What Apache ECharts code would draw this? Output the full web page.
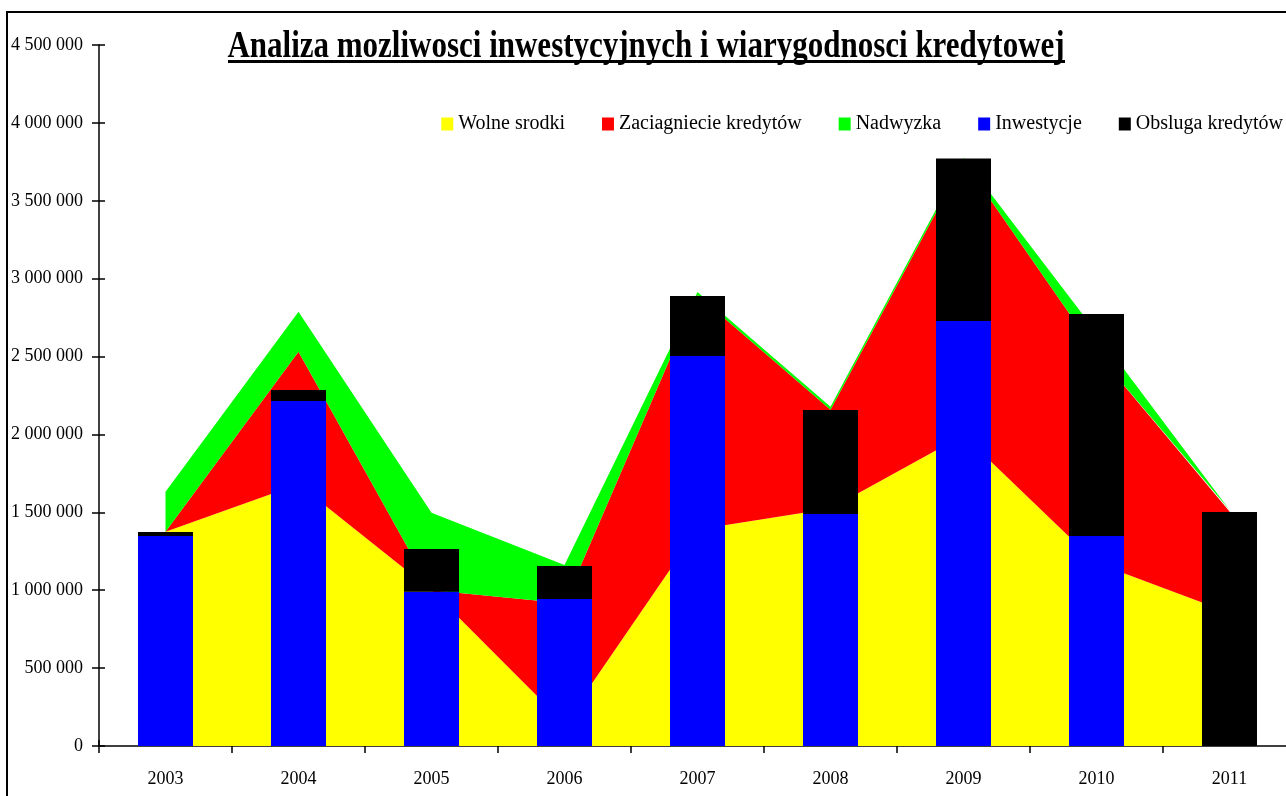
<!DOCTYPE html>
<html>
<head>
<meta charset="utf-8">
<script src="https://cdn.jsdelivr.net/npm/echarts@6/dist/echarts.min.js"></script>
<style>
  html, body { margin: 0; padding: 0; background: #fff; }
  #main { width: 1286px; height: 796px; }
</style>
</head>
<body>
<div id="main"></div>
<script>
// dane
var years = ['2003', '2004', '2005', '2006', '2007', '2008', '2009', '2010', '2011'];
var wolneSrodki = [1375000, 1680000, 1000000, 145000, 1390000, 1525000, 1995000, 1175000, 855000];
var zaciagniecie = [0, 851000, 0, 771000, 1505000, 633000, 1760000, 1350000, 650000];
var nadwyzka = [257000, 256000, 498000, 246000, 20000, 20000, 20000, 130000, 10000];
var inwestycje = [1348000, 2214000, 990000, 943000, 2503000, 1489000, 2728000, 1348000, 0];
var obsluga = [26000, 71000, 274000, 212000, 385000, 668000, 1044000, 1425000, 1502000];

var serif = '"Liberation Serif", "Times New Roman", serif';

function fmt(v) {
    return String(v).replace(/\B(?=(\d{3})+(?!\d))/g, ' ');
}

function area(name, data, color) {
    return {
        name: name, type: 'line', stack: 'obszar', data: data,
        symbol: 'none', smooth: false,
        lineStyle: { width: 0, color: color },
        itemStyle: { color: color },
        areaStyle: { color: color, opacity: 1 },
        z: 1
    };
}

function bar(name, data, color) {
    return {
        name: name, type: 'bar', stack: 'slupki', data: data,
        barWidth: 55, itemStyle: { color: color },
        z: 3
    };
}

var myChart = echarts.init(document.getElementById('main'));

var option = {
    animation: false,
    backgroundColor: '#fff',
    graphic: [
        {
            type: 'rect', z: 100, silent: true,
            shape: { x: 7, y: 12, width: 1320, height: 820 },
            style: { fill: 'none', stroke: '#000', lineWidth: 2 }
        },
        {
            type: 'text', z: 100, x: 646, y: 47, scaleY: 1.25,
            style: {
                text: 'Analiza mozliwosci inwestycyjnych i wiarygodnosci kredytowej',
                x: 0, y: 0, fill: '#000',
                font: 'bold 31px ' + serif,
                textAlign: 'center', textVerticalAlign: 'middle'
            }
        },
        {
            type: 'rect', z: 100,
            shape: { x: 228, y: 60, width: 837, height: 3 },
            style: { fill: '#000' }
        }
    ],
    legend: {
        top: 114, right: 3, padding: 0,
        icon: 'rect', itemWidth: 12, itemHeight: 13, itemGap: 37,
        textStyle: { fontFamily: serif, fontSize: 20, color: '#000' },
        data: ['Wolne srodki', 'Zaciagniecie kredytów', 'Nadwyzka', 'Inwestycje', 'Obsluga kredytów']
    },
    grid: { left: 99, top: 45, width: 1197, height: 701, containLabel: false, outerBoundsMode: 'none' },
    xAxis: [
        {
            type: 'category', data: years, boundaryGap: true,
            axisLine: { lineStyle: { color: '#000', width: 1.5 } },
            axisTick: { show: true, length: 7, lineStyle: { color: '#000', width: 1.5 } },
            axisLabel: { fontFamily: serif, fontSize: 18, color: '#000', margin: 24 },
            splitLine: { show: false }
        },
        {
            type: 'category', data: years, boundaryGap: true, position: 'bottom',
            axisLine: { show: false },
            axisTick: { show: true, inside: true, length: 6, lineStyle: { color: '#000', width: 1.5 } },
            axisLabel: { show: false },
            splitLine: { show: false }
        }
    ],
    yAxis: [
        {
            type: 'value', min: 0, max: 4500000, interval: 500000,
            axisLine: { show: true, lineStyle: { color: '#000', width: 1.5 } },
            axisTick: { show: true, length: 7, lineStyle: { color: '#000', width: 1.5 } },
            axisLabel: { fontFamily: serif, fontSize: 18, color: '#000', margin: 16, formatter: fmt },
            splitLine: { show: false }
        },
        {
            type: 'value', min: 0, max: 4500000, interval: 500000, position: 'left',
            axisLine: { show: false },
            axisTick: { show: true, inside: true, length: 6, lineStyle: { color: '#000', width: 1.5 } },
            axisLabel: { show: false },
            splitLine: { show: false }
        }
    ],
    series: [
        area('Wolne srodki', wolneSrodki, '#FFFF00'),
        area('Zaciagniecie kredytów', zaciagniecie, '#FF0000'),
        area('Nadwyzka', nadwyzka, '#00FF00'),
        bar('Inwestycje', inwestycje, '#0000FF'),
        bar('Obsluga kredytów', obsluga, '#000000')
    ]
};

myChart.setOption(option, true);
</script>
</body>
</html>
